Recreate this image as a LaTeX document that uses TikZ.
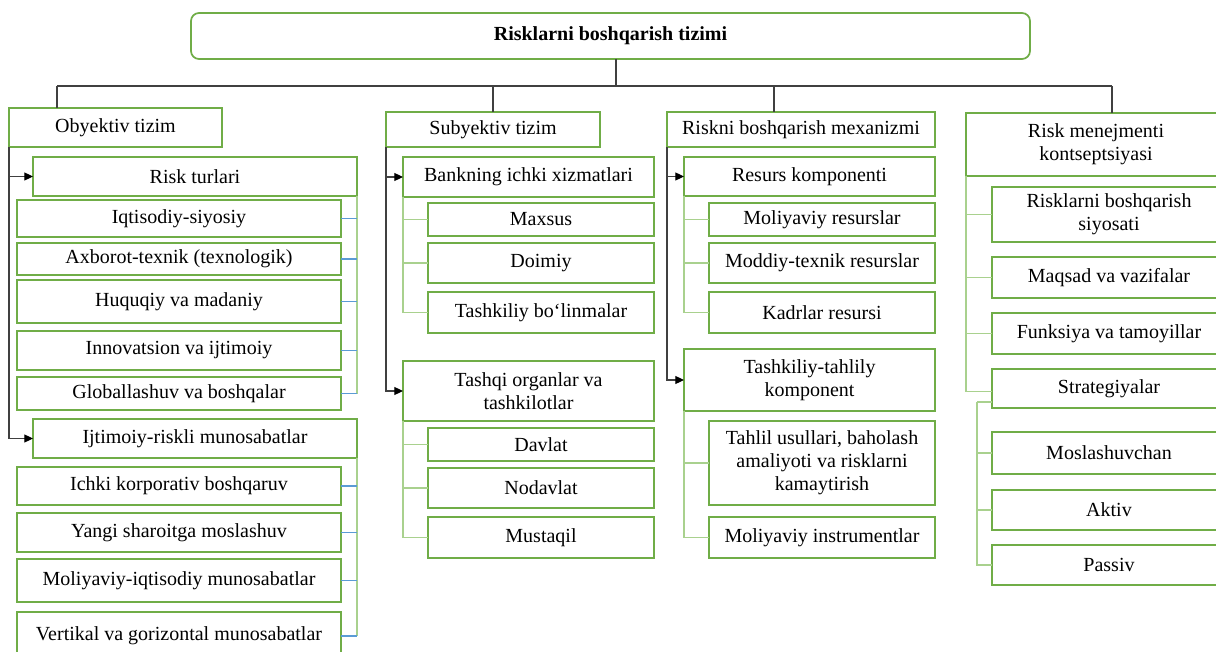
\documentclass[tikz,border=0pt]{standalone}
\usepackage{fontspec}
\setmainfont{Liberation Serif}
\usetikzlibrary{arrows.meta}
\definecolor{bgreen}{HTML}{70AD47}
\definecolor{lgreen}{HTML}{A9D18E}
\definecolor{lblue}{HTML}{5B9BD5}
\definecolor{dgrey}{HTML}{404040}
\tikzset{
  box/.style={draw=bgreen, line width=1.3pt, fill=white, inner sep=0pt, outer sep=0pt, align=center},
  titlebox/.style={box, rounded corners=6pt},
  dline/.style={draw=dgrey, line width=0.8pt},
  arr/.style={-{Triangle[length=6.5pt,width=6pt,color=black]}},
  gline/.style={draw=lgreen, line width=0.8pt},
  bline/.style={draw=lblue, line width=0.8pt}
}
\newcommand\mybox[7][box]{\node[#1, minimum width={(#5-#3)*0.75pt}, minimum height={(#6-#4)*0.75pt}] (#2) at ({(#3+#5)/2},{(#4+#6)/2}) {#7};}
\begin{document}
\begin{tikzpicture}[x=0.75pt, y=-0.75pt, font=\fontsize{15}{17.3}\selectfont]
\useasboundingbox (0,0) rectangle (1216,652);
\clip (0,0) rectangle (1216,652);
\fill[white] (0,0) rectangle (1216,652);
% bus coordinates
\coordinate (b0) at (616,86);
\coordinate (b1) at (57,86);
\coordinate (b2) at (493,86);
\coordinate (b3) at (774,86);
\coordinate (b4) at (1112,86);
\coordinate (s2) at (977,402);
\mybox[titlebox]{title}{191}{13}{1030}{59}{\textbf{Risklarni boshqarish tizimi}}
\draw[dline] (title.south -| b0) -- (b0);
\draw[dline] (b1) -- (b4);
% top level
\mybox{obj}{9}{108}{222}{147}{Obyektiv tizim}
\mybox{sub}{386}{112}{600}{147}{Subyektiv tizim}
\mybox{mech}{667}{112}{935}{147}{Riskni boshqarish mexanizmi}
\mybox{conc}{966}{113}{1226}{176}{Risk menejmenti\\kontseptsiyasi}
\draw[dline] (b1) -- (b1 |- obj.north);
\draw[dline] (b2) -- (b2 |- sub.north);
\draw[dline] (b3) -- (b3 |- mech.north);
\draw[dline] (b4) -- (b4 |- conc.north);
% column 1
\mybox{rt}{33}{157}{357}{196}{Risk turlari}
\mybox{iqt}{17}{200}{341}{237}{Iqtisodiy-siyosiy}
\mybox{axb}{17}{243}{341}{275}{Axborot-texnik (texnologik)}
\mybox{huq}{17}{280}{341}{323}{Huquqiy va madaniy}
\mybox{inn}{17}{331}{341}{370}{Innovatsion va ijtimoiy}
\mybox{glob}{17}{377}{341}{410}{Globallashuv va boshqalar}
\mybox{ijt}{33}{419}{357}{458}{Ijtimoiy-riskli munosabatlar}
\mybox{ichki}{17}{467}{341}{505}{Ichki korporativ boshqaruv}
\mybox{yangi}{17}{513}{341}{552}{Yangi sharoitga moslashuv}
\mybox{moliq}{17}{559}{341}{602}{Moliyaviy-iqtisodiy munosabatlar}
\mybox{vert}{17}{612}{341}{660}{Vertikal va gorizontal munosabatlar}
\draw[dline,arr] (obj.south west) |- (rt.west);
\draw[dline,arr] (obj.south west) |- (ijt.west);
\draw[gline] (rt.south east) -- (rt.south east |- glob.east);
\foreach \n in {iqt,axb,huq,inn,glob} \draw[bline] (\n.east) -- (\n.east -| rt.east);
\draw[gline] (ijt.south east) -- (ijt.south east |- vert.east);
\foreach \n in {ichki,yangi,moliq,vert} \draw[bline] (\n.east) -- (\n.east -| ijt.east);
% column 2
\mybox{bank}{403}{157}{654}{197}{Bankning ichki xizmatlari}
\mybox{maxsus}{428}{203}{654}{236}{Maxsus}
\mybox{doimiy}{428}{243}{654}{283}{Doimiy}
\mybox{tbol}{428}{292}{654}{333}{Tashkiliy bo‘linmalar}
\mybox{tashqi}{403}{361}{654}{421}{Tashqi organlar va\\tashkilotlar}
\mybox{davlat}{428}{428}{654}{461}{Davlat}
\mybox{nodavlat}{428}{468}{654}{508}{Nodavlat}
\mybox{mustaqil}{428}{517}{654}{558}{Mustaqil}
\draw[dline,arr] (sub.south west) |- (bank.west);
\draw[dline,arr] (sub.south west) |- (tashqi.west);
\foreach \n in {maxsus,doimiy,tbol} \draw[gline] (bank.south west) |- (\n.west);
\foreach \n in {davlat,nodavlat,mustaqil} \draw[gline] (tashqi.south west) |- (\n.west);
% column 3
\mybox{res}{684}{157}{935}{196}{Resurs komponenti}
\mybox{molres}{709}{203}{935}{236}{Moliyaviy resurslar}
\mybox{moddiy}{709}{243}{935}{283}{Moddiy-texnik resurslar}
\mybox{kadr}{709}{292}{935}{333}{Kadrlar resursi}
\mybox{ttk}{684}{349}{935}{411}{Tashkiliy-tahlily\\komponent}
\mybox{tahlil}{709}{421}{935}{505}{Tahlil usullari, baholash\\amaliyoti va risklarni\\kamaytirish}
\mybox{molinst}{709}{517}{935}{558}{Moliyaviy instrumentlar}
\draw[dline,arr] (mech.south west) |- (res.west);
\draw[dline,arr] (mech.south west) |- (ttk.west);
\foreach \n in {molres,moddiy,kadr} \draw[gline] (res.south west) |- (\n.west);
\foreach \n in {tahlil,molinst} \draw[gline] (ttk.south west) |- (\n.west);
% column 4
\mybox{rbs}{992}{187}{1226}{242}{Risklarni boshqarish\\siyosati}
\mybox{maqsad}{992}{257}{1226}{298}{Maqsad va vazifalar}
\mybox{funk}{992}{313}{1226}{354}{Funksiya va tamoyillar}
\mybox{strat}{992}{369}{1226}{408}{Strategiyalar}
\mybox{mosl}{992}{432}{1226}{474}{Moslashuvchan}
\mybox{aktiv}{992}{490}{1226}{530}{Aktiv}
\mybox{passiv}{992}{545}{1226}{585}{Passiv}
\foreach \n in {rbs,maqsad,funk} \draw[gline] (conc.south west) |- (\n.west);
\draw[gline] (conc.south west) |- ([yshift=-2pt]strat.west);
\draw[gline] (strat.west |- s2) -- (s2);
\foreach \n in {mosl,aktiv,passiv} \draw[gline] (s2) |- (\n.west);
\end{tikzpicture}
\end{document}
